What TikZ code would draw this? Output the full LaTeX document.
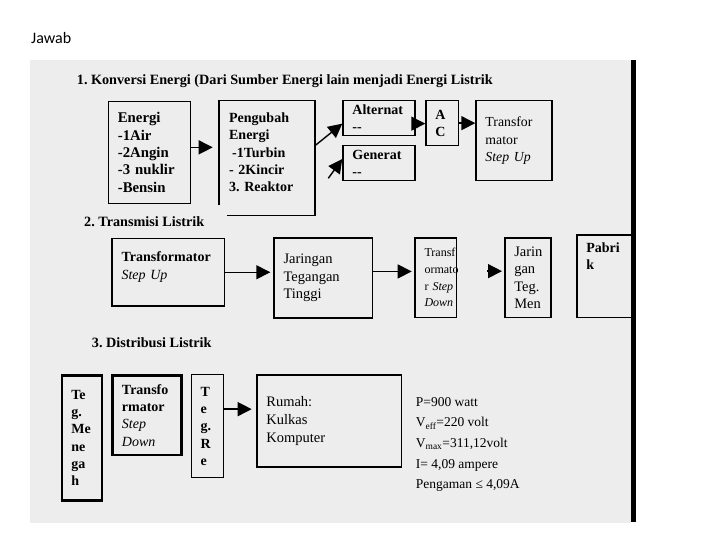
\documentclass[tikz,border=0pt]{standalone}
\usepackage{fontspec}
\setmainfont{Liberation Serif}
\newfontfamily\calibri{Carlito}
\usetikzlibrary{arrows.meta,positioning}
\definecolor{panel}{HTML}{EDEDED}
\frenchspacing

\begin{document}
\begin{tikzpicture}[x=1pt, y=-1pt,
box/.style={draw=black, line width=1.3pt, anchor=north west, align=left, inner xsep=9.5pt, inner ysep=2pt, font=\fontsize{14.5}{17.3}\selectfont},
bbox/.style={box, font=\fontsize{14}{17.3}\selectfont\bfseries},
thickbox/.style={line width=2.3pt},
thinbox/.style={line width=0.9pt},
heading/.style={anchor=west, inner sep=0pt, font=\fontsize{14.2}{17}\selectfont\bfseries},
arrow/.style={-{Triangle[length=14pt, width=14pt]}, line width=1.4pt}
]
\useasboundingbox (0,0) rectangle (720,540);
\fill[panel] (30,60) rectangle (631,523);
\fill[black] (631,60) rectangle (636,522);
\node[anchor=base west, inner sep=0pt, font=\calibri\fontsize{16}{18}\selectfont] (jawab) at (31,43.5) {Jawab};

\node[heading] (t1) at (76.7,80.7) {1. Konversi Energi (Dari Sumber Energi lain menjadi Energi Listrik};
\node[bbox, font=\fontsize{14.8}{17.3}\selectfont\bfseries, minimum width=82.3pt, text width=63.3pt, minimum height=102pt] (energi) at (107.7,100.7) {Energi\\-1Air\\-2Angin\\-3 nuklir\\-Bensin};
\node[bbox, draw=none, minimum width=94.7pt, text width=75.7pt, minimum height=102pt] (peng) at (219,100.7) {Pengubah\\Energi\\\hspace{3pt}-1Turbin\\- 2Kincir\\3. Reaktor};
\draw[line width=1.3pt] ([yshift=-1.3pt]peng.south west) -- (peng.north west) -- (peng.north east) -- ([yshift=-11.3pt]peng.south east) -- ([xshift=7.7pt, yshift=-11.3pt]peng.south west);
\node[bbox, minimum width=72pt, text width=53pt, minimum height=35pt] (alt) at (342.3,100) {Alternat\\-{}-};
\node[bbox, minimum width=72pt, text width=53pt, minimum height=35pt] (gen) at (342.3,145) {Generat\\-{}-};
\node[bbox, minimum width=32.4pt, text width=13.4pt, minimum height=45pt] (ac) at (425.3,100) {A\\C};
\node[box, font=\fontsize{13.8}{17.3}\selectfont, minimum width=76pt, text width=57pt, minimum height=80pt] (tr1) at (475.3,100) {Transfor\\mator\\\textit{Step Up}};
\coordinate (genin) at (328.3,178.3);
\draw[arrow, shorten >=6.3pt] ([yshift=5pt]energi.east) -- ([yshift=5pt]energi.east -| peng.west);
\draw[arrow] ([yshift=6.7pt]peng.east) -- ([yshift=-5.5pt]alt.west);
\draw[arrow] (genin) -- ([yshift=4.2pt]gen.west);
\draw[arrow] ([yshift=-5.5pt]alt.east) -- ([yshift=-5.5pt]alt.east -| ac.west);
\draw[arrow] (ac.east) -- (ac.east -| tr1.west);

\node[heading] (t2) at (84,221.7) {2. Transmisi Listrik};
\node[bbox, line width=1.5pt, minimum width=112.4pt, text width=93.4pt, minimum height=67.6pt] (tr2) at (111.3,237.7) {Transformator\\\textit{\mdseries Step Up}\\[-4pt]~};
\node[box, line width=1.5pt, minimum width=98.4pt, text width=79.4pt, minimum height=80pt] (jar) at (273.3,237.3) {Jaringan\\Tegangan\\Tinggi};
\node[box, line width=1.5pt, font=\fontsize{12}{16.7}\selectfont, minimum width=41.4pt, text width=22.4pt, minimum height=79.4pt] (sd) at (414.3,237.3) {Transf\\ormato\\\mbox{r \textit{Step}}\\\textit{Down}};
\node[box, line width=1.5pt, minimum width=46pt, text width=27pt, minimum height=79.4pt] (jm) at (504,237.3) {Jarin\\gan\\Teg.\\Men};
\node[bbox, line width=1.5pt, minimum width=55pt, text width=36pt, minimum height=82.7pt] (pabrik) at (576,234) {Pabri\\k\\~\\[6pt]~};
\draw[arrow, shorten >=3pt] (tr2.east) -- (tr2.east -| jar.west);
\draw[arrow, shorten >=2.6pt] ([yshift=6.6pt]jar.east) -- ([yshift=6.6pt]jar.east -| sd.west);
\draw[arrow] ([xshift=29.8pt, yshift=6.6pt]sd.east) -- ([xshift=-2pt, yshift=6.6pt]jm.west);

\node[heading] (t3) at (91.7,342.7) {3. Distribusi Listrik};
\node[bbox, thickbox, minimum width=40pt, text width=21pt, minimum height=125pt] (tm) at (60.7,374.3) {Te\\g.\\Me\\ne\\ga\\h};
\node[bbox, thickbox, minimum width=69pt, text width=50pt, minimum height=79.7pt] (tsd) at (111.3,374.3) {Transfo\\rmator\\\textit{\mdseries Step}\\\textit{\mdseries Down}};
\node[bbox, thinbox, minimum width=32.6pt, text width=13.6pt, minimum height=103pt] (tre) at (190.7,374.3) {T\\e\\g.\\R\\e};
\node[box, line width=1.7pt, minimum width=144.7pt, text width=125.7pt, minimum height=91.7pt, font=\fontsize{14.5}{18}\selectfont] (rumah) at (256,374.3) {Rumah:\\Kulkas\\Komputer};
\node[anchor=north west, align=left, inner sep=0pt, font=\fontsize{13.5}{20.7}\selectfont] (data) at (415.7,397) {P=900 watt\\V\textsubscript{eff}=220 volt\\V\textsubscript{max}=311,12volt\\I= 4,09 ampere\\Pengaman ≤ 4,09A};
\draw[arrow, shorten >=4.3pt] ([yshift=17.1pt]tre.east) -- ([yshift=17.1pt]tre.east -| rumah.west);
\end{tikzpicture}
\end{document}
